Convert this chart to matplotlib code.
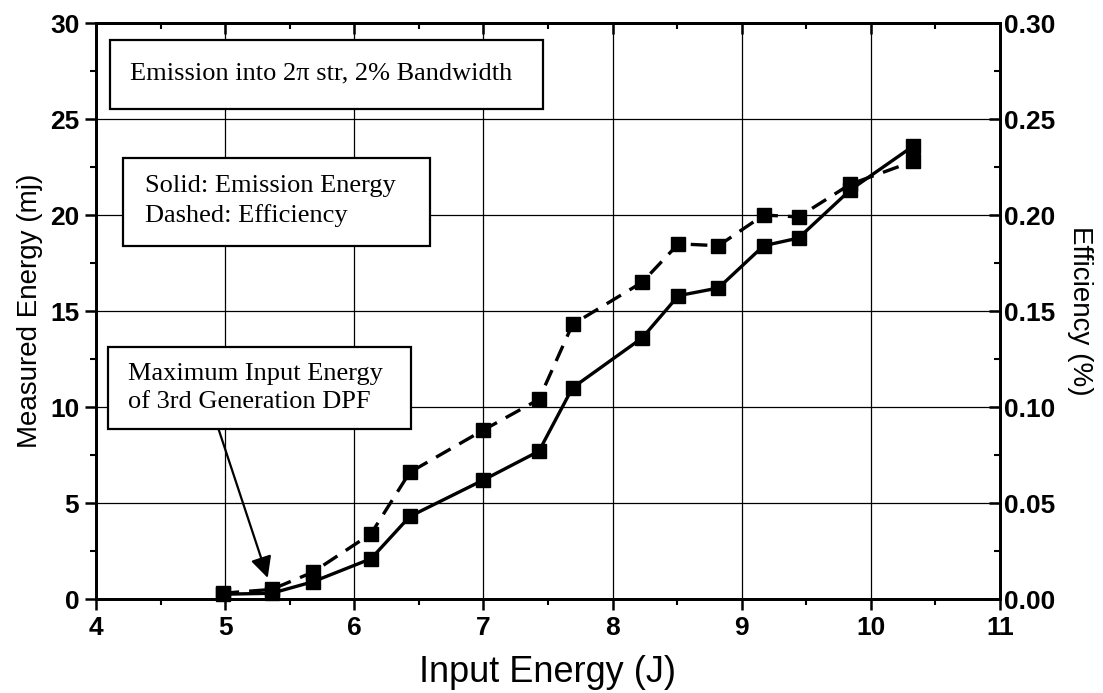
import matplotlib
matplotlib.use("Agg")
import matplotlib.pyplot as plt
from matplotlib.patches import Rectangle
from matplotlib.ticker import MultipleLocator, FormatStrFormatter

input_energy = [4.98, 5.36, 5.68, 6.13, 6.43, 7.00, 7.43, 7.69, 8.23, 8.51, 8.82, 9.17, 9.44, 9.84, 10.33]
emission_mj = [0.25, 0.3, 0.9, 2.1, 4.3, 6.2, 7.7, 11.0, 13.6, 15.8, 16.2, 18.4, 18.8, 21.3, 23.6]
efficiency_pct = [0.003, 0.005, 0.014, 0.034, 0.066, 0.088, 0.104, 0.143, 0.165, 0.185, 0.184, 0.200, 0.199, 0.216, 0.228]

serif = "Liberation Serif"
sans = "Liberation Sans"

fig = plt.figure(figsize=(11.03, 6.93), dpi=100)
ax = fig.add_axes([0.087, 0.1356, 0.8196, 0.8312])
ax2 = ax.twinx()

ax.set_xlim(4, 11)
ax.set_ylim(0, 30)
ax2.set_ylim(0, 0.30)

ax.xaxis.set_major_locator(MultipleLocator(1))
ax.xaxis.set_minor_locator(MultipleLocator(0.5))
ax.yaxis.set_major_locator(MultipleLocator(5))
ax.yaxis.set_minor_locator(MultipleLocator(2.5))
ax2.yaxis.set_major_locator(MultipleLocator(0.05))
ax2.yaxis.set_minor_locator(MultipleLocator(0.025))
ax2.yaxis.set_major_formatter(FormatStrFormatter("%.2f"))

ax.grid(True, which="major", color="black", linewidth=0.9)

for a in (ax, ax2):
    for s in a.spines.values():
        s.set_linewidth(2.0)

ax.tick_params(axis="both", which="major", direction="out", length=8, width=1.8,
               labelsize=19, pad=4)
ax.tick_params(axis="both", which="minor", direction="out", length=4.5, width=1.5)
ax2.tick_params(axis="y", which="major", direction="in", length=8, width=1.8,
                labelsize=19, pad=3)
ax2.tick_params(axis="y", which="minor", direction="in", length=4.5, width=1.5)

top = ax.secondary_xaxis("top")
top.xaxis.set_major_locator(MultipleLocator(1))
top.xaxis.set_minor_locator(MultipleLocator(0.5))
top.tick_params(axis="x", which="major", direction="in", length=8, width=1.8, labeltop=False)
top.tick_params(axis="x", which="minor", direction="in", length=4.5, width=1.5)
top.spines["top"].set_linewidth(2.0)

for lab in ax.get_xticklabels() + ax.get_yticklabels() + ax2.get_yticklabels():
    lab.set_fontfamily(sans)
    lab.set_fontweight("bold")

ax.set_xlabel("Input Energy (J)", fontsize=26, fontfamily=sans, labelpad=11)
ax.set_ylabel("Measured Energy (mj)", fontsize=20, fontfamily=sans, labelpad=5)
ax2.set_ylabel("Efficiency (%)", fontsize=20, fontfamily=sans, rotation=270, labelpad=27)

# Kurven
ax.plot(input_energy, emission_mj, color="black", linewidth=2.4, marker="s",
        markersize=10, clip_on=False, zorder=5)
ax2.plot(input_energy, efficiency_pct, color="black", linewidth=2.4, linestyle=(0, (5, 3)),
         marker="s", markersize=10, clip_on=False, zorder=5)

# Textkaesten
def textbox(x0, y0, x1, y1, lines, tx, ty):
    ax.add_patch(Rectangle((x0, y0), x1 - x0, y1 - y0, facecolor="white",
                           edgecolor="black", linewidth=1.6, zorder=6))
    ax.text(tx, ty, lines, fontsize=19, fontfamily=serif, va="center", ha="left",
            linespacing=1.35, zorder=7)

textbox(4.11, 25.5, 7.46, 29.1, "Emission into 2\u03c0 str, 2% Bandwidth", 4.26, 27.35)
textbox(4.21, 18.4, 6.59, 22.95, "Solid: Emission Energy\nDashed: Efficiency", 4.38, 20.73)
textbox(4.09, 8.83, 6.44, 13.1, "Maximum Input Energy\nof 3rd Generation DPF", 4.25, 10.97)

ax.annotate("", xy=(5.33, 1.1), xytext=(4.95, 8.83),
            arrowprops=dict(arrowstyle="-|>", color="black", linewidth=1.6,
                            mutation_scale=32, shrinkA=0, shrinkB=0), zorder=8)

fig.savefig("out.png", dpi=100)
